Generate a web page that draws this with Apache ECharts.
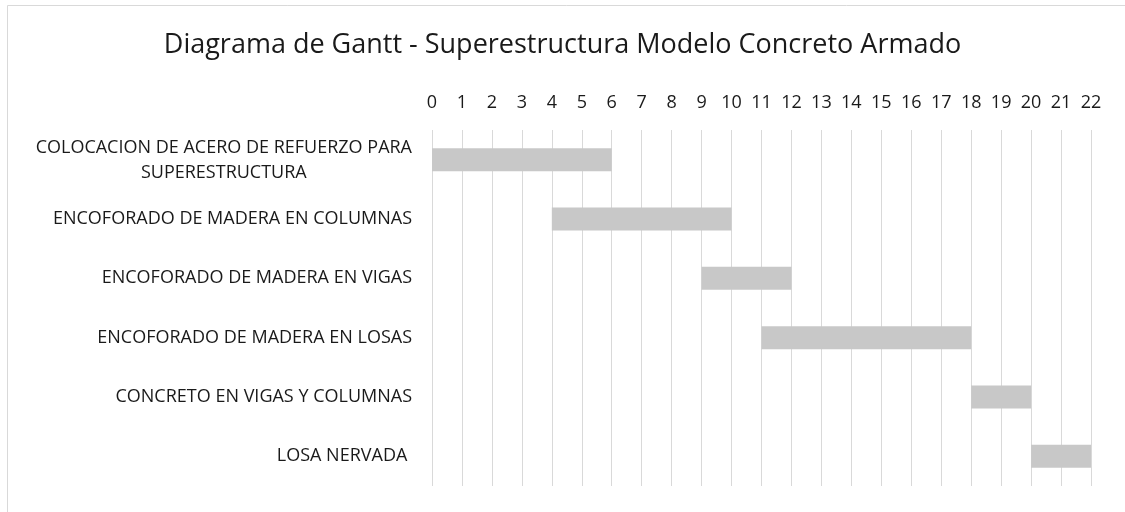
<!DOCTYPE html>
<html>
<head>
<meta charset="utf-8">
<script src="https://cdn.jsdelivr.net/npm/echarts@6/dist/echarts.min.js"></script>
<style>
html,body{margin:0;padding:0;background:#fff;}
#chart{width:1125px;height:512px;}
</style>
</head>
<body>
<div id="chart"></div>
<script>
// actividades (de arriba hacia abajo)
var tareas = ['COLOCACION DE ACERO DE REFUERZO PARA\nSUPERESTRUCTURA',
              'ENCOFORADO DE MADERA EN COLUMNAS',
              'ENCOFORADO DE MADERA EN VIGAS',
              'ENCOFORADO DE MADERA EN LOSAS',
              'CONCRETO EN VIGAS Y COLUMNAS',
              'LOSA NERVADA '];
var inicio = [0, 4, 9, 11, 18, 20];
var duracion = [6, 6, 3, 7, 2, 2];
var escalaMax = 22;

var myChart = echarts.init(document.getElementById('chart'));
var fuente = 'Open Sans';
var option = {
	backgroundColor: '#fff',
	animation: false,
	title: {
		text: 'Diagrama de Gantt - Superestructura Modelo Concreto Armado',
		left: 'center',
		top: 27,
		textStyle: {fontFamily: fuente, fontSize: 27, fontWeight: 'normal', color: '#1a1a1a'}
	},
	graphic: [{
		type: 'rect',
		shape: {x: 7.5, y: 5.5, width: 1200, height: 600},
		style: {fill: 'none', stroke: '#d9d9d9', lineWidth: 1},
		silent: true
	}],
	grid: {left: 432, right: 34, top: 130, bottom: 26},
	xAxis: {
		type: 'value',
		position: 'top',
		min: 0,
		max: escalaMax,
		interval: 1,
		axisLine: {show: false},
		axisTick: {show: false},
		axisLabel: {fontFamily: fuente, fontSize: 18, color: '#1a1a1a', margin: 18},
		splitLine: {show: true, lineStyle: {color: '#d9d9d9', width: 1}}
	},
	yAxis: {
		type: 'category',
		inverse: true,
		data: tareas,
		axisLine: {show: false},
		axisTick: {show: false},
		axisLabel: {
			fontFamily: fuente, fontSize: 18, color: '#1a1a1a', margin: 20, lineHeight: 25,
			formatter: function (v) {
				if (v.indexOf('\n') >= 0) {
					return v.split('\n').map(function (s) { return '{c|' + s + '}'; }).join('\n');
				}
				return v;
			},
			rich: {c: {align: 'center', fontFamily: fuente, fontSize: 18, color: '#1a1a1a', lineHeight: 25, padding: [2, 0, 0, 0]}}
		},
		splitLine: {show: false}
	},
	series: [
		{
			type: 'bar', stack: 'g', data: inicio, barWidth: 23,
			itemStyle: {color: 'transparent'}, silent: true
		},
		{
			type: 'bar', stack: 'g', data: duracion, barWidth: 23,
			itemStyle: {color: '#c8c8c8'}
		}
	]
};
myChart.setOption(option);
</script>
</body>
</html>
